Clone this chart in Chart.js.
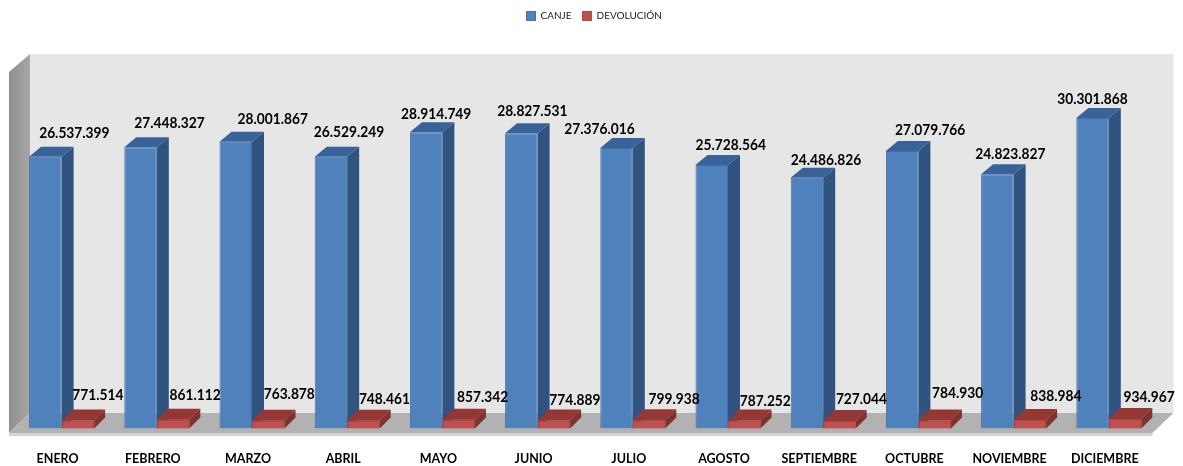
<!DOCTYPE html>
<html><head><meta charset="utf-8">
<style>html,body{margin:0;padding:0;background:#fff}#w{width:1183px;height:466px}</style>
<script src="https://cdn.jsdelivr.net/npm/chart.js@4/dist/chart.umd.min.js"></script>
</head><body><div id="w"><canvas id="c" width="1183" height="466"></canvas></div>
<script>
const categories=["ENERO","FEBRERO","MARZO","ABRIL","MAYO","JUNIO","JULIO","AGOSTO","SEPTIEMBRE","OCTUBRE","NOVIEMBRE","DICIEMBRE"];
const canje=[26537399,27448327,28001867,26529249,28914749,28827531,27376016,25728564,24486826,27079766,24823827,30301868];
const devolucion=[771514,861112,763878,748461,857342,774889,799938,787252,727044,784930,838984,934967];
const canjeLabelDx=[29,29,37,18,10,11,-17,19,19,28,13,0];
const canjeLabelDy=[-24,-24,-23,-25,-18,-22,-19,-20,-18,-21,-20,-19];
const devLabelDx=[20,22,21,21,24,21,25,21,22,23,26,24];
const devLabelDy=[-26,-25,-27,-22,-23,-21,-21,-20,-22,-28,-24,-22];
const labelFont='bold 16px Lato,sans-serif';
const fmt=v=>String(v).replace(/\B(?=(\d{3})+$)/g,".");
function poly(ctx,pts,fill){ctx.beginPath();pts.forEach((p,i)=>i?ctx.lineTo(p[0],p[1]):ctx.moveTo(p[0],p[1]));ctx.closePath();ctx.fillStyle=fill;ctx.fill();}
const faces=[{side:"#30547f",top:"#38639a",dx:12,dy:10},{side:"#7f3330",top:"#943735",dx:11,dy:11}];
function drawFaces(ch,i){
 const c=ch.ctx,f=faces[i];
 ch.getDatasetMeta(i).data.forEach(b=>{
  const l=b.x-b.width/2,r=b.x+b.width/2,t=b.y,bt=b.base;
  poly(c,[[r,t],[r+f.dx,t-f.dy],[r+f.dx,bt-f.dy],[r,bt]],f.side);
  poly(c,[[l,t],[l+f.dx,t-f.dy],[r+f.dx,t-f.dy],[r,t]],f.top);
 });
}
const scene={id:"scene",
 afterLayout(ch){ch.legend.left+=9;ch.legend.right+=9;},
 beforeDatasetsDraw(ch){
  const c=ch.ctx,a=ch.chartArea,L=a.left-5,R=a.right-4,T=ch.scales.y.getPixelForValue(35000000)+2,B=a.bottom+4.5,dx=21,dy=20;
  c.save();
  poly(c,[[L+dx,T-18],[R+dx,T-18],[R+dx,B-dy],[L+dx,B-dy]],"#e6e6e6");
  const g=c.createLinearGradient(L,0,L+dx,0);g.addColorStop(0,"#8f8f8f");g.addColorStop(1,"#a6a6a6");
  poly(c,[[L,T],[L+dx,T-18],[L+dx,B-dy],[L,B]],g);
  poly(c,[[L,B],[L+dx,B-dy],[R+dx,B-dy],[R,B]],"#b2b2b2");
  poly(c,[[L,B],[R,B],[R,B+3],[L,B+3]],"#d4d4d4");
  c.restore();
 },
 beforeDatasetDraw(ch,args){ if(args.index===0) drawFaces(ch,0); },
 afterDatasetsDraw(ch){
  const c=ch.ctx;
  drawFaces(ch,1);
  ch.getDatasetMeta(1).data.forEach(b=>b.draw(c));
  c.font=labelFont;c.fillStyle="#000";c.textAlign="center";c.textBaseline="middle";
  [[canje,canjeLabelDx,canjeLabelDy],[devolucion,devLabelDx,devLabelDy]].forEach((s,i)=>{
   ch.getDatasetMeta(i).data.forEach((b,j)=>{
    c.save();c.translate(b.x+s[1][j],b.y+s[2][j]);c.scale(0.86,1);c.fillText(fmt(s[0][j]),0,0);c.restore();
   });
  });
 }};
new Chart(document.getElementById("c"),{type:"bar",
 data:{labels:categories,datasets:[
  {label:"CANJE",data:canje,backgroundColor:"#4f81bd",borderColor:"#426fa6",borderWidth:1},
  {label:"DEVOLUCIÓN",data:devolucion,backgroundColor:"#c0504d",borderColor:"#a94442",borderWidth:1}]},
 options:{responsive:false,animation:false,events:[],
  layout:{padding:{left:14,right:26.6,top:0,bottom:0}},
  datasets:{bar:{categoryPercentage:0.683,barPercentage:1}},
  plugins:{tooltip:{enabled:false},
   legend:{position:"top",align:"center",labels:{boxWidth:9,boxHeight:9,padding:11,color:"#222",font:{family:'Lato,sans-serif',size:10}}}},
  scales:{
   y:{display:false,min:0,max:38800000,grid:{display:false}},
   x:{grid:{display:false},border:{display:false},afterFit(s){s.height=37.5},
      ticks:{color:"#000",labelOffset:-4,padding:15,maxRotation:0,autoSkip:false,font:{family:'Lato,sans-serif',size:12.5,weight:"bold"}}}}},
 plugins:[scene]});
</script></body></html>
